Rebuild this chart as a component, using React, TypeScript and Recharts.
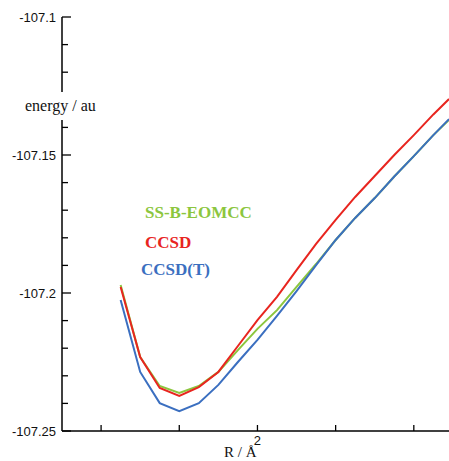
import React from "react";
import { LineChart, Line, XAxis, YAxis } from "recharts";

// bond length R (Å) and energies (au)
const rValues = [1.65, 1.7, 1.75, 1.8, 1.85, 1.9, 1.95, 2.0, 2.05, 2.1, 2.15, 2.2, 2.25, 2.3, 2.35, 2.4, 2.45, 2.49];
const ssbEomcc = [-107.1971, -107.2232, -107.2337, -107.2362, -107.2337, -107.2286, -107.2207, -107.213, -107.2062, -107.1978, -107.1895, -107.1808, -107.1728, -107.1656, -107.1578, -107.1504, -107.1428, -107.1373];
const ccsd = [-107.1978, -107.2232, -107.2344, -107.2373, -107.2341, -107.2286, -107.2192, -107.2098, -107.2014, -107.1917, -107.1822, -107.1735, -107.1652, -107.1576, -107.15, -107.1428, -107.1353, -107.1297];
const ccsdT = [-107.2025, -107.2286, -107.2399, -107.2428, -107.2399, -107.2333, -107.225, -107.217, -107.2083, -107.1993, -107.1899, -107.1808, -107.1728, -107.1656, -107.1578, -107.1504, -107.1428, -107.137];

const yTicks = [-107.25, -107.24, -107.23, -107.22, -107.21, -107.2, -107.19, -107.18, -107.17, -107.16, -107.15, -107.14, -107.13, -107.12, -107.11, -107.1];
const yMajor = [-107.25, -107.2, -107.15, -107.1];
const xTicks = [1.6, 1.8, 2.0, 2.2, 2.4];
const xLabelled = [2.0];

const GREEN = "#8cc63e";
const RED = "#e8251f";
const BLUE = "#3b6fc0";

const data = rValues.map((r, i) => ({ r, ssb: ssbEomcc[i], ccsd: ccsd[i], ccsdt: ccsdT[i] }));

const isMajor = (v: number) => yMajor.some((m) => Math.abs(m - v) < 1e-6);

function YTick(props: any) {
  const { x, y, payload } = props;
  const v = payload.value as number;
  const major = isMajor(v);
  return (
    <g>
      <line x1={x} x2={x + (major ? 9 : 6)} y1={y} y2={y} stroke="#000" strokeWidth={1.3} />
      {major && (
        <text x={x - 6} y={y} dy={4.5} textAnchor="end" fontSize={13} fontFamily="Liberation Sans, Arial" fill="#111">
          {String(v)}
        </text>
      )}
    </g>
  );
}

function XTick(props: any) {
  const { x, y, payload } = props;
  const v = payload.value as number;
  const show = xLabelled.some((m) => Math.abs(m - v) < 1e-6);
  return (
    <g>
      <line x1={x} x2={x} y1={y} y2={y - 6} stroke="#000" strokeWidth={1.3} />
      {show && (
        <text x={x} y={y} dy={14} textAnchor="middle" fontSize={13} fontFamily="Liberation Sans, Arial" fill="#111">
          {String(v)}
        </text>
      )}
    </g>
  );
}

const legendStyle: React.CSSProperties = {
  position: "absolute",
  fontFamily: "Liberation Serif, Times New Roman, serif",
  fontWeight: "bold",
  fontSize: 17,
  lineHeight: "20px",
  whiteSpace: "nowrap",
};

export default function App() {
  return (
    <div style={{ position: "absolute", left: 0, top: 0, width: 449, height: 461, background: "#fff", overflow: "hidden" }}>
      <LineChart width={449} height={461} data={data} margin={{ top: 17, right: 0, bottom: 0, left: 0 }}>
        <XAxis
          dataKey="r"
          type="number"
          domain={[1.5, 2.49]}
          allowDataOverflow
          ticks={xTicks}
          tick={XTick}
          tickLine={false}
          tickSize={0}
          tickMargin={0}
          height={30}
          axisLine={{ stroke: "#000", strokeWidth: 1.5 }}
        />
        <YAxis
          type="number"
          domain={[-107.25, -107.1]}
          allowDataOverflow
          ticks={yTicks}
          tick={YTick}
          tickLine={false}
          tickSize={0}
          tickMargin={0}
          width={62}
          axisLine={{ stroke: "#000", strokeWidth: 1.5 }}
          interval={0}
        />
        <Line dataKey="ssb" stroke={GREEN} strokeWidth={2} dot={false} isAnimationActive={false} type="linear" />
        <Line dataKey="ccsd" stroke={RED} strokeWidth={2} dot={false} isAnimationActive={false} type="linear" />
        <Line dataKey="ccsdt" stroke={BLUE} strokeWidth={2} dot={false} isAnimationActive={false} type="linear" />
      </LineChart>
      <div
        style={{
          position: "absolute",
          left: 23,
          top: 92,
          height: 28,
          lineHeight: "28px",
          padding: "0 2px",
          background: "#fff",
          fontFamily: "Liberation Serif, Times New Roman, serif",
          fontSize: 16,
          color: "#111",
          whiteSpace: "nowrap",
        }}
      >
        energy / au
      </div>
      <div style={{ ...legendStyle, left: 145, top: 203, color: GREEN }}>SS-B-EOMCC</div>
      <div style={{ ...legendStyle, left: 145, top: 233, color: RED }}>CCSD</div>
      <div style={{ ...legendStyle, left: 141, top: 260, color: BLUE }}>CCSD(T)</div>
      <div
        style={{
          position: "absolute",
          left: 224,
          top: 443,
          lineHeight: "18px",
          fontFamily: "Liberation Serif, Times New Roman, serif",
          fontSize: 15,
          color: "#111",
          whiteSpace: "nowrap",
        }}
      >
        R / Å
      </div>
    </div>
  );
}
